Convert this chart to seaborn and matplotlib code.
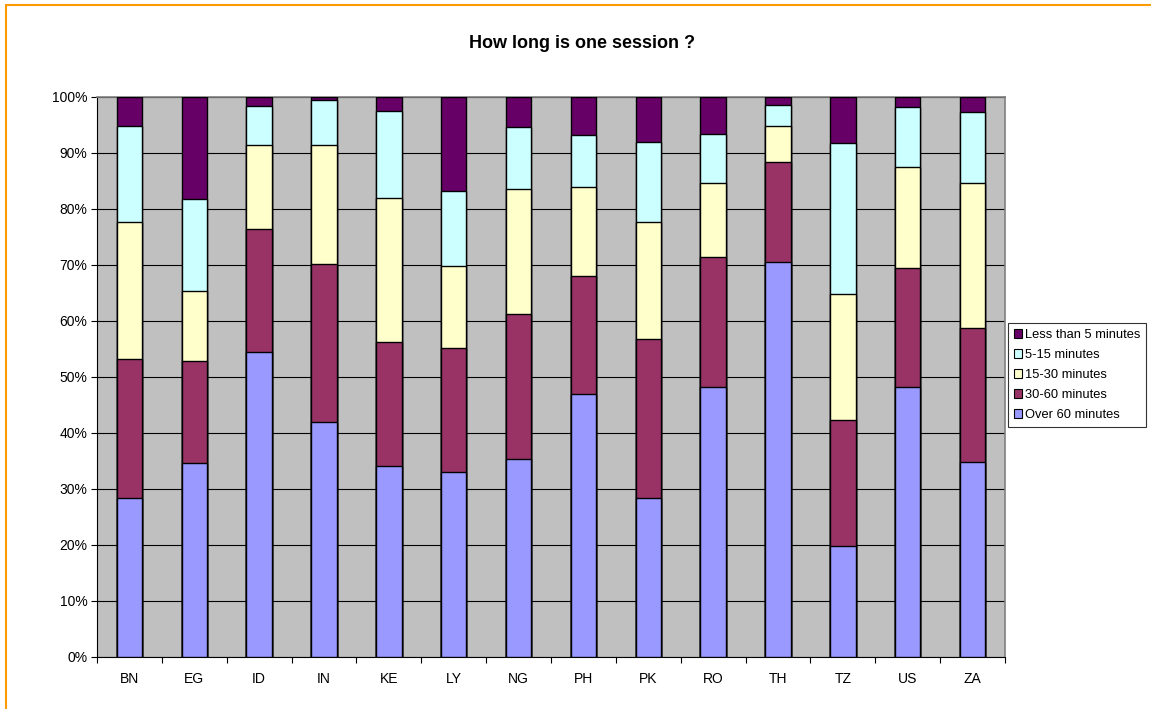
import matplotlib
matplotlib.use("Agg")
import matplotlib.pyplot as plt
import seaborn as sns
import pandas as pd
import numpy as np
from matplotlib.patches import Rectangle, Patch
from matplotlib.ticker import FixedLocator, PercentFormatter

# data (segment sizes, %)
countries = ["BN", "EG", "ID", "IN", "KE", "LY", "NG", "PH", "PK", "RO", "TH", "TZ", "US", "ZA"]
over60 = [28.4, 34.6, 54.4, 42.0, 34.1, 33.0, 35.4, 47.0, 28.4, 48.2, 70.6, 19.8, 48.3, 34.8]
m30_60 = [24.9, 18.3, 22.0, 28.2, 22.15, 22.1, 25.85, 21.0, 28.3, 23.3, 17.8, 22.5, 21.1, 23.95]
m15_30 = [24.3, 12.5, 15.1, 21.3, 25.75, 14.7, 22.35, 16.0, 20.9, 13.1, 6.5, 22.5, 18.1, 25.85]
m5_15 = [17.3, 16.4, 6.9, 8.0, 15.5, 13.5, 11.1, 9.2, 14.4, 8.8, 3.7, 27.0, 10.8, 12.7]
less5 = [5.1, 18.2, 1.6, 0.5, 2.5, 16.7, 5.3, 6.8, 8.0, 6.6, 1.4, 8.2, 1.7, 2.7]

series = ["Over 60 minutes", "30-60 minutes", "15-30 minutes", "5-15 minutes", "Less than 5 minutes"]
colors = ["#9999FF", "#993366", "#FFFFCC", "#CCFFFF", "#660066"]

df = pd.DataFrame({"country": countries, series[0]: over60, series[1]: m30_60,
                   series[2]: m15_30, series[3]: m5_15, series[4]: less5})
cum = df[series].cumsum(axis=1)

plt.rcParams["font.family"] = ["Liberation Sans", "DejaVu Sans"]
fig = plt.figure(figsize=(11.51, 7.09), dpi=100)
ax = fig.add_axes([97 / 1151, 1 - 657 / 709, (1005 - 97) / 1151, (657 - 97) / 709])
ax.set_facecolor("#C0C0C0")

# draw tallest cumulative first so lower segments sit on top
for name, col in reversed(list(zip(series, colors))):
    sns.barplot(x=df["country"], y=cum[name], color=col, saturation=1, width=0.39,
                edgecolor="black", linewidth=1.0, ax=ax, zorder=3)

ax.set_ylim(0, 100)
ax.set_xlim(-0.5, len(countries) - 0.5)
ax.yaxis.set_major_locator(FixedLocator(np.arange(0, 101, 10)))
ax.yaxis.set_major_formatter(PercentFormatter(decimals=0))
ax.grid(axis="y", color="black", linewidth=0.8, zorder=1)
ax.set_axisbelow(True)
ax.set_xlabel("")
ax.set_ylabel("")
ax.tick_params(axis="x", length=0, pad=11, labelsize=10)
ax.tick_params(axis="y", length=4, width=0.8, direction="out", labelsize=10, pad=3)
ax.xaxis.set_minor_locator(FixedLocator(np.arange(-0.5, len(countries), 1.0)))
ax.tick_params(axis="x", which="minor", length=4, width=0.8, direction="out")
for s in ["left", "bottom"]:
    ax.spines[s].set_color("black")
    ax.spines[s].set_linewidth(0.8)
for s in ["top", "right"]:
    ax.spines[s].set_color("#808080")
    ax.spines[s].set_linewidth(1.2)

fig.text(582 / 1151, 1 - 43 / 709, "How long is one session ?",
         ha="center", va="center", fontsize=13, fontweight="bold")

handles = [Patch(facecolor=c, edgecolor="black", linewidth=0.8, label=n)
           for n, c in zip(series, colors)][::-1]
leg = fig.legend(handles=handles, loc="center left", bbox_to_anchor=(1008 / 1151, 1 - 375 / 709),
                 fontsize=9.3, frameon=True, fancybox=False, edgecolor="black",
                 handlelength=0.6, handleheight=0.6, handletextpad=0.25,
                 borderpad=0.45, labelspacing=0.62, borderaxespad=0)
leg.get_frame().set_linewidth(0.8)

fig.patches.append(Rectangle((6 / 1151, -0.05), 1.2, 1 - 5 / 709 + 0.05, transform=fig.transFigure,
                             fill=False, edgecolor="#FF9900", linewidth=1.5))

fig.savefig("out.png", dpi=100)
